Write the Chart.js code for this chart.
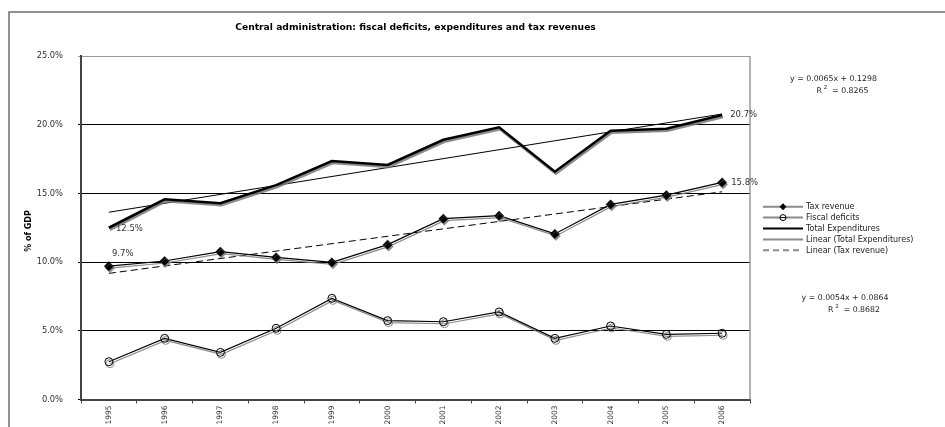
<!DOCTYPE html>
<html>
<head>
<meta charset="utf-8">
<script src="https://cdn.jsdelivr.net/npm/chart.js@4/dist/chart.umd.min.js"></script>
<style>
  html, body { margin: 0; padding: 0; background: #fff; }
  #wrap { width: 945px; height: 427px; position: relative; }
</style>
</head>
<body>
<div id="wrap"><canvas id="c" width="945" height="427"></canvas></div>
<script>
// Central administration figures, % of GDP
const years = ['1995', '1996', '1997', '1998', '1999', '2000', '2001', '2002', '2003', '2004', '2005', '2006'];
const taxRevenue = [9.7, 10.08, 10.76, 10.35, 9.98, 11.27, 13.16, 13.38, 12.05, 14.2, 14.88, 15.8];
const fiscalDeficits = [2.75, 4.45, 3.43, 5.18, 7.36, 5.74, 5.66, 6.37, 4.45, 5.35, 4.74, 4.82];
const totalExpenditures = [12.5, 14.57, 14.28, 15.6, 17.36, 17.07, 18.9, 19.81, 16.58, 19.56, 19.71, 20.7];

// Linear trend fits: [slope, intercept, R squared] (x = 1 for the first year)
const expenditureTrend = [0.0065, 0.1298, 0.8265];
const taxTrend = [0.0054, 0.0864, 0.8682];

// Value-axis tick labels (% of GDP)
const yTicks = [0, 5, 10, 15, 20, 25];

const FONT = 'DejaVu Sans';

function trendLine(fit) {
  const first = 1, last = years.length;
  return [
    { x: years[0], y: (fit[0] * first + fit[1]) * 100 },
    { x: years[last - 1], y: (fit[0] * last + fit[1]) * 100 }
  ];
}

// Grey offset shadow under the data series
const shadowPlugin = {
  id: 'seriesShadow',
  beforeDatasetDraw(chart, args) {
    const ds = chart.data.datasets[args.index];
    if (!ds.withShadow) return;
    const ctx = chart.ctx;
    ctx.save();
    ctx.shadowColor = 'rgba(120,120,120,0.85)';
    ctx.shadowOffsetX = 1;
    ctx.shadowOffsetY = 2;
    ctx.shadowBlur = 0;
  },
  afterDatasetDraw(chart, args) {
    const ds = chart.data.datasets[args.index];
    if (!ds.withShadow) return;
    chart.ctx.restore();
  }
};

function drawEquation(ctx, fit, cx, cy) {
  ctx.font = '7.8px ' + FONT;
  ctx.fillStyle = '#222';
  ctx.textBaseline = 'middle';
  ctx.textAlign = 'center';
  const eq = 'y = ' + fit[0].toFixed(4) + 'x + ' + fit[1].toFixed(4);
  ctx.fillText(eq, cx, cy);
  // R² line
  const r = 'R';
  const rest = '  = ' + fit[2].toFixed(4);
  const wR = ctx.measureText(r).width;
  const wRest = ctx.measureText(rest).width;
  ctx.font = '5.5px ' + FONT;
  const wSup = ctx.measureText(' 2').width;
  const total = wR + wSup + wRest;
  let x = cx + 9 - total / 2;
  const y2 = cy + 12;
  ctx.textAlign = 'left';
  ctx.font = '7.8px ' + FONT;
  ctx.fillText(r, x, y2);
  x += wR;
  ctx.font = '5.5px ' + FONT;
  ctx.fillText(' 2', x, y2 - 3);
  x += wSup;
  ctx.font = '7.8px ' + FONT;
  ctx.fillText(rest, x, y2);
}

// Frame, title, axis title, value labels, trend equations and legend
const decorPlugin = {
  id: 'decor',
  beforeDraw(chart) {
    const ctx = chart.ctx;
    ctx.save();
    ctx.fillStyle = '#fff';
    ctx.fillRect(0, 0, chart.width, chart.height);
    ctx.restore();
  },
  afterDraw(chart) {
    const ctx = chart.ctx;
    const area = chart.chartArea;
    ctx.save();

    // outer frame
    ctx.strokeStyle = '#6e6e6e';
    ctx.lineWidth = 1.5;
    ctx.strokeRect(9, 12, 1200, 1200);

    // right side of the plot frame
    ctx.strokeStyle = '#9a9a9a';
    ctx.lineWidth = 1.5;
    ctx.beginPath();
    ctx.moveTo(area.right, area.top);
    ctx.lineTo(area.right, area.bottom);
    ctx.stroke();

    // title
    ctx.fillStyle = '#000';
    ctx.font = 'bold 9.2px ' + FONT;
    ctx.textAlign = 'center';
    ctx.textBaseline = 'middle';
    ctx.fillText('Central administration: fiscal deficits, expenditures and tax revenues', (area.left + area.right) / 2, 28);

    // value axis title
    ctx.save();
    ctx.translate(29, 231);
    ctx.rotate(-Math.PI / 2);
    ctx.font = 'bold 8px ' + FONT;
    ctx.fillText('% of GDP', 0, 0);
    ctx.restore();

    // value labels on first and last points
    const expMeta = chart.getDatasetMeta(2);
    const taxMeta = chart.getDatasetMeta(0);
    const last = years.length - 1;
    ctx.font = '8.5px ' + FONT;
    ctx.fillStyle = '#333';
    ctx.textAlign = 'left';
    ctx.textBaseline = 'middle';
    const p0 = expMeta.data[0];
    ctx.fillText(totalExpenditures[0].toFixed(1) + '%', p0.x + 7, p0.y + 1);
    const t0 = taxMeta.data[0];
    ctx.fillText(taxRevenue[0].toFixed(1) + '%', t0.x + 3, t0.y - 12);
    const pL = expMeta.data[last];
    ctx.fillText(totalExpenditures[last].toFixed(1) + '%', pL.x + 8, pL.y);
    const tL = taxMeta.data[last];
    ctx.fillText(taxRevenue[last].toFixed(1) + '%', tL.x + 9, tL.y + 0.5);

    // trend equations
    drawEquation(ctx, expenditureTrend, 833.5, 79);
    drawEquation(ctx, taxTrend, 845, 298);

    // legend
    const samples = [
      { color: '#8a8a8a', width: 2, dash: [], marker: 'diamond' },
      { color: '#8a8a8a', width: 2, dash: [], marker: 'circle' },
      { color: '#000', width: 2, dash: [], marker: null },
      { color: '#8a8a8a', width: 2, dash: [], marker: null },
      { color: '#8a8a8a', width: 2, dash: [6, 4], marker: null }
    ];
    const x0 = 763, x1 = 803;
    let y = 206.7;
    chart.data.datasets.forEach((ds, i) => {
      const s = samples[i];
      ctx.save();
      ctx.strokeStyle = s.color;
      ctx.lineWidth = s.width;
      ctx.setLineDash(s.dash);
      ctx.beginPath();
      ctx.moveTo(x0, y);
      ctx.lineTo(x1, y);
      ctx.stroke();
      ctx.setLineDash([]);
      const mx = (x0 + x1) / 2;
      if (s.marker === 'diamond') {
        ctx.fillStyle = '#000';
        ctx.beginPath();
        ctx.moveTo(mx, y - 3.5);
        ctx.lineTo(mx + 3.5, y);
        ctx.lineTo(mx, y + 3.5);
        ctx.lineTo(mx - 3.5, y);
        ctx.closePath();
        ctx.fill();
      } else if (s.marker === 'circle') {
        ctx.strokeStyle = '#000';
        ctx.lineWidth = 1;
        ctx.fillStyle = '#fff';
        ctx.beginPath();
        ctx.arc(mx, y, 3, 0, Math.PI * 2);
        ctx.fill();
        ctx.stroke();
        ctx.beginPath();
        ctx.moveTo(mx - 3, y);
        ctx.lineTo(mx + 3, y);
        ctx.stroke();
      }
      ctx.restore();
      ctx.fillStyle = '#222';
      ctx.font = '8px ' + FONT;
      ctx.textAlign = 'left';
      ctx.textBaseline = 'middle';
      ctx.fillText(ds.label, x1 + 3, y + 0.5);
      y += 10.9;
    });

    ctx.restore();
  }
};

new Chart(document.getElementById('c'), {
  type: 'line',
  data: {
    labels: years,
    datasets: [
      {
        label: 'Tax revenue',
        data: taxRevenue,
        borderColor: '#000',
        borderWidth: 1.2,
        pointStyle: 'rectRot',
        pointRadius: 4.6,
        pointBackgroundColor: '#000',
        pointBorderColor: '#000',
        pointBorderWidth: 0.5,
        tension: 0,
        withShadow: true,
        order: 1
      },
      {
        label: 'Fiscal deficits',
        data: fiscalDeficits,
        borderColor: '#000',
        borderWidth: 1.2,
        pointStyle: 'circle',
        pointRadius: 4,
        pointBackgroundColor: 'rgba(255,255,255,0)',
        pointBorderColor: '#000',
        pointBorderWidth: 1,
        tension: 0,
        withShadow: true,
        order: 2
      },
      {
        label: 'Total Expenditures',
        data: totalExpenditures,
        borderColor: '#000',
        borderWidth: 2.6,
        pointRadius: 0,
        tension: 0,
        withShadow: true,
        order: 0
      },
      {
        label: 'Linear (Total Expenditures)',
        data: trendLine(expenditureTrend),
        borderColor: '#000',
        borderWidth: 1,
        pointRadius: 0,
        tension: 0,
        order: 3
      },
      {
        label: 'Linear (Tax revenue)',
        data: trendLine(taxTrend),
        borderColor: '#000',
        borderWidth: 1,
        borderDash: [7, 4],
        pointRadius: 0,
        tension: 0,
        order: 4
      }
    ]
  },
  options: {
    responsive: false,
    animation: false,
    devicePixelRatio: 1,
    events: [],
    layout: { padding: { left: 0, top: 56, right: 195, bottom: 0 } },
    plugins: {
      legend: { display: false },
      title: { display: false },
      tooltip: { enabled: false }
    },
    scales: {
      x: {
        type: 'category',
        offset: true,
        grid: {
          offset: true,
          drawOnChartArea: false,
          drawTicks: true,
          tickLength: 4,
          color: '#444',
          lineWidth: 1
        },
        border: { display: true, color: '#444', width: 2 },
        ticks: {
          autoSkip: false,
          minRotation: 90,
          maxRotation: 90,
          padding: 2,
          color: '#333',
          font: { family: FONT, size: 7.5 }
        },
        afterFit(scale) { scale.height = 27.5; }
      },
      y: {
        min: 0,
        max: 25,
        afterBuildTicks(scale) { scale.ticks = yTicks.map(v => ({ value: v })); },
        grid: {
          color: (c) => (c.tick && c.tick.value === 25 ? '#9a9a9a' : '#000'),
          lineWidth: 1,
          drawTicks: true,
          tickLength: 3
        },
        border: { display: true, color: '#444', width: 2 },
        ticks: {
          padding: 15,
          color: '#333',
          font: { family: FONT, size: 8.3 },
          callback: (v) => Number(v).toFixed(1) + '%'
        },
        afterFit(scale) { scale.width = 81; }
      }
    }
  },
  plugins: [shadowPlugin, decorPlugin]
});
</script>
</body>
</html>
